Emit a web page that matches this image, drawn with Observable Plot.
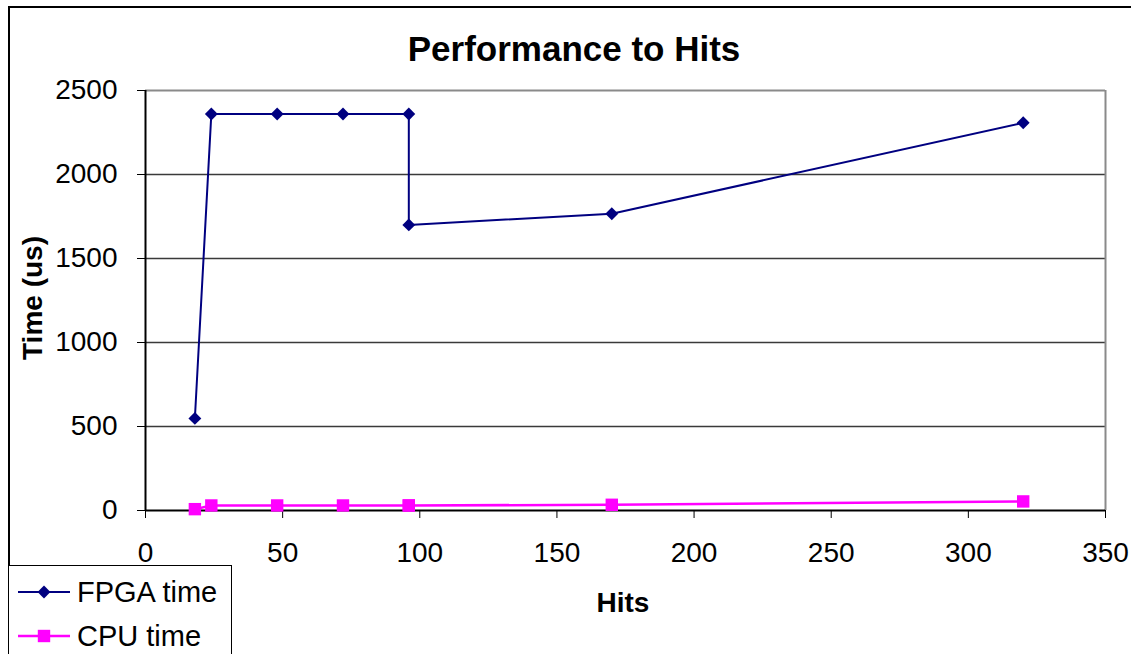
<!DOCTYPE html>
<html>
<head>
<meta charset="utf-8">
<script src="https://cdn.jsdelivr.net/npm/d3@7"></script>
<script src="https://cdn.jsdelivr.net/npm/@observablehq/plot@0.6"></script>
<style>
  body { margin: 0; background: #fff; font-family: "Liberation Sans", Arial, sans-serif; }
  #wrap { position: relative; width: 1131px; height: 654px; overflow: hidden; background: #fff; }
  #border { position: absolute; left: 8px; top: 6px; width: 1140px; height: 720px; border: 2px solid #000; box-sizing: border-box; }
  #chart { position: absolute; left: 0; top: 0; }
  #title { position: absolute; left: 0; width: 1148px; top: 31px; text-align: center; font-weight: bold; font-size: 35px; line-height: 1; color: #000; }
  #xlabel { position: absolute; left: 523px; width: 200px; top: 589px; text-align: center; font-weight: bold; font-size: 28px; line-height: 1; }
  #ylabel { position: absolute; left: -67px; width: 200px; top: 284px; height: 28px; text-align: center; font-weight: bold; font-size: 28px; line-height: 28px; transform: rotate(-90deg); }
  #legend { position: absolute; left: 8px; top: 565px; width: 224px; height: 120px; border: 1.5px solid #000; box-sizing: border-box; background: #fff; }
</style>
</head>
<body>
<div id="wrap">
  <div id="border"></div>
  <div id="chart"></div>
  <div id="title">Performance to Hits</div>
  <div id="xlabel">Hits</div>
  <div id="ylabel">Time (us)</div>
  <div id="legend"></div>
</div>
<script>
// ---- data ----
const hits     = [18, 24, 48, 72, 96, 96, 170, 320];
const fpgaTime = [548, 2360, 2360, 2360, 2360, 1700, 1766, 2308];
const cpuTime  = [8, 30, 30, 30, 30, 30, 34, 54];
const seriesNames = ["FPGA time", "CPU time"];
const xTicks = [0, 50, 100, 150, 200, 250, 300, 350];
const yTicks = [0, 500, 1000, 1500, 2000, 2500];

const seriesStyle = [
  { color: "#000080", symbol: "diamond2", r: 5.8, width: 2 },
  { color: "#FF00FF", symbol: "square",   r: 7,   width: 2.5 }
];
const seriesValues = [fpgaTime, cpuTime];
const rows = seriesNames.flatMap((name, s) =>
  hits.map((h, i) => ({ series: name, hits: h, time: seriesValues[s][i] })));

const marks = [
  Plot.ruleY(yTicks.filter(v => v > 0 && v < 2500), { stroke: "#3a3a3a", strokeWidth: 1.5 }),
  Plot.ruleY([2500], { stroke: "#8a8a8a", strokeWidth: 2 }),
  Plot.ruleX([350], { stroke: "#8a8a8a", strokeWidth: 2 }),
  Plot.ruleX([0], { stroke: "#000", strokeWidth: 2 }),
  Plot.ruleY([0], { stroke: "#000", strokeWidth: 2 })
];
seriesNames.forEach((name, s) => {
  const data = rows.filter(d => d.series === name);
  const st = seriesStyle[s];
  marks.push(Plot.line(data, { x: "hits", y: "time", stroke: st.color, strokeWidth: st.width }));
  marks.push(Plot.dot(data, { x: "hits", y: "time", symbol: st.symbol, r: st.r, fill: st.color, stroke: "none" }));
});

const chart = Plot.plot({
  width: 1131, height: 654,
  marginTop: 90, marginBottom: 144, marginLeft: 145, marginRight: 26,
  style: { fontFamily: "'Liberation Sans', Arial, sans-serif", fontSize: "28px", background: "transparent", color: "#000" },
  x: { domain: [0, 350], ticks: xTicks, tickSize: 8, tickPadding: 24, tickFormat: d3.format("d"), label: null },
  y: { domain: [0, 2500], ticks: yTicks, tickSize: 8, tickPadding: 20, tickFormat: d3.format("d"), label: null },
  marks
});
document.getElementById("chart").appendChild(chart);

// ---- legend ----
const lg = d3.select("#legend").append("svg").attr("width", 224).attr("height", 120);
seriesNames.forEach((name, s) => {
  const st = seriesStyle[s];
  const cy = 26 + s * 44;
  lg.append("line").attr("x1", 9).attr("x2", 61).attr("y1", cy).attr("y2", cy)
    .attr("stroke", st.color).attr("stroke-width", st.width);
  const sym = st.symbol === "square" ? d3.symbolSquare : d3.symbolDiamond2;
  lg.append("path").attr("d", d3.symbol(sym, st.r * st.r * Math.PI)())
    .attr("transform", `translate(35,${cy})`).attr("fill", st.color);
  lg.append("text").attr("x", 68).attr("y", cy + 10)
    .attr("font-family", "'Liberation Sans', Arial, sans-serif").attr("font-size", 29)
    .text(name);
});
</script>
</body>
</html>
